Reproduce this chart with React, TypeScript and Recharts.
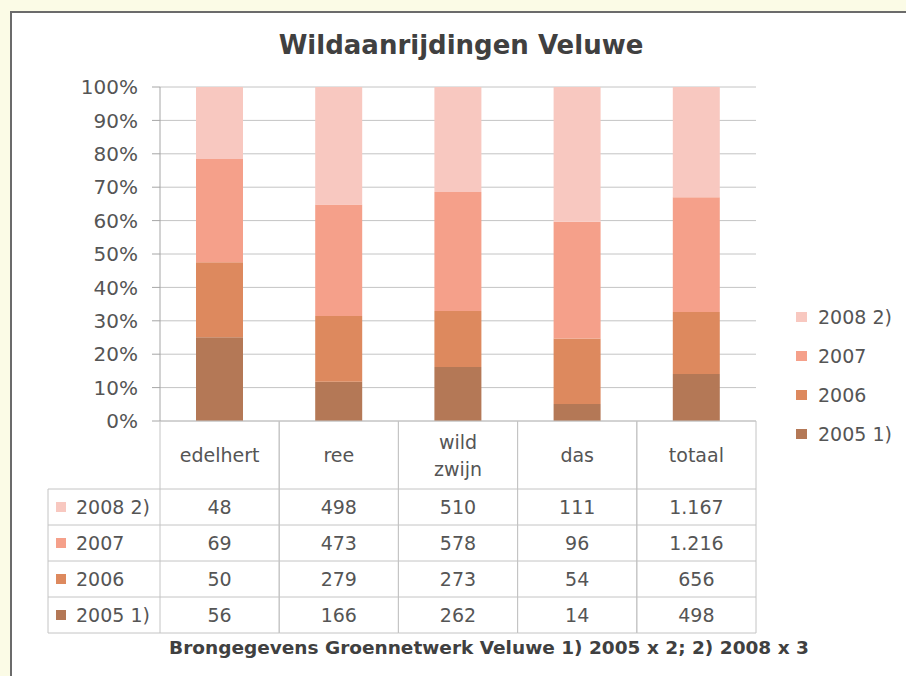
import React from 'react';
import { BarChart, Bar, XAxis, YAxis, CartesianGrid, Legend } from 'recharts';

const categories = ['edelhert', 'ree', 'wild zwijn', 'das', 'totaal'];
const seriesNames = ['2005 1)', '2006', '2007', '2008 2)'];
const values2005 = [56, 166, 262, 14, 498];
const values2006 = [50, 279, 273, 54, 656];
const values2007 = [69, 473, 578, 96, 1216];
const values2008 = [48, 498, 510, 111, 1167];
const yTicks = [0, 0.1, 0.2, 0.3, 0.4, 0.5, 0.6, 0.7, 0.8, 0.9, 1];
const title = 'Wildaanrijdingen Veluwe';
const footnote = 'Brongegevens Groennetwerk Veluwe 1) 2005 x 2; 2) 2008 x 3';

const seriesKeys = ['s2005', 's2006', 's2007', 's2008'];
const seriesValues = [values2005, values2006, values2007, values2008];
const colors = ['#b47856', '#dd895e', '#f5a08a', '#f8c8c0'];

const data = categories.map((name, i) => {
  const row: Record<string, any> = { name };
  seriesKeys.forEach((k, s) => {
    row[k] = seriesValues[s][i];
  });
  return row;
});

const W = 906;
const H = 676;
const PLOT_LEFT = 160;
const PLOT_RIGHT = 756;
const PLOT_TOP = 87;
const PLOT_BOTTOM = 421;
const TABLE_BOTTOM = 633;
const HEADER_H = 68;
const ROW_H = 36;
const LABEL_LEFT = 48;
const GRID = '#c4c4c4';
const TEXT = '#555555';
const FONT = '"DejaVu Sans", sans-serif';
const FS = 19;

const fmt = (n: number) => {
  const s = String(n);
  return s.replace(/\B(?=(\d{3})+(?!\d))/g, '.');
};

const TableTick = (props: any) => {
  const { x, y, payload, index } = props;
  const hw = (PLOT_RIGHT - PLOT_LEFT) / categories.length / 2;
  const ci = categories.indexOf(payload.value);
  const lines = String(payload.value).split(' ');
  const headerMid = y + HEADER_H / 2;
  const rowTop = y + HEADER_H;
  const rowOrder = [3, 2, 1, 0];
  return (
    <g>
      <line x1={x - hw} x2={x - hw} y1={y} y2={TABLE_BOTTOM} stroke={GRID} />
      <line x1={x + hw} x2={x + hw} y1={y} y2={TABLE_BOTTOM} stroke={GRID} />
      {lines.map((ln, li) => (
        <text
          key={li}
          x={x}
          y={headerMid + (li - (lines.length - 1) / 2) * 27}
          textAnchor="middle"
          dominantBaseline="central"
          fontSize={FS}
          fill={TEXT}
        >
          {ln}
        </text>
      ))}
      {rowOrder.map((s, r) => (
        <g key={s}>
          <line x1={x - hw} x2={x + hw} y1={rowTop + r * ROW_H} y2={rowTop + r * ROW_H} stroke={GRID} />
          <text
            x={x}
            y={rowTop + r * ROW_H + ROW_H / 2}
            textAnchor="middle"
            dominantBaseline="central"
            fontSize={FS}
            fill={TEXT}
          >
            {fmt(seriesValues[s][ci])}
          </text>
        </g>
      ))}
      <line x1={x - hw} x2={x + hw} y1={TABLE_BOTTOM} y2={TABLE_BOTTOM} stroke={GRID} />
      {index === 0 && (
        <g>
          <line x1={LABEL_LEFT} x2={LABEL_LEFT} y1={rowTop} y2={TABLE_BOTTOM} stroke={GRID} />
          <line x1={LABEL_LEFT} x2={x - hw} y1={TABLE_BOTTOM} y2={TABLE_BOTTOM} stroke={GRID} />
          {rowOrder.map((s, r) => (
            <g key={s}>
              <line x1={LABEL_LEFT} x2={x - hw} y1={rowTop + r * ROW_H} y2={rowTop + r * ROW_H} stroke={GRID} />
              <rect x={LABEL_LEFT + 8} y={rowTop + r * ROW_H + ROW_H / 2 - 5} width={10} height={10} fill={colors[s]} />
              <text
                x={LABEL_LEFT + 28}
                y={rowTop + r * ROW_H + ROW_H / 2}
                dominantBaseline="central"
                fontSize={FS}
                fill={TEXT}
              >
                {seriesNames[s]}
              </text>
            </g>
          ))}
        </g>
      )}
    </g>
  );
};

const LegendContent = (props: any) => {
  const payload = (props.payload || []).slice().reverse();
  return (
    <div>
      {payload.map((e: any) => (
        <div key={e.value} style={{ height: 39, display: 'flex', alignItems: 'center', fontSize: FS, color: TEXT, whiteSpace: 'nowrap' }}>
          <span style={{ display: 'inline-block', width: 11, height: 10, background: e.color, marginRight: 11 }} />
          <span>{e.value}</span>
        </div>
      ))}
    </div>
  );
};

export default function App() {
  return (
    <div style={{ position: 'absolute', left: 0, top: 0, width: W, height: H, background: '#fbfbe6', fontFamily: FONT, overflow: 'hidden' }}>
      <div
        style={{
          position: 'absolute',
          left: 10,
          top: 11,
          width: W - 10,
          height: H - 11,
          background: '#ffffff',
          borderLeft: '2px solid #6b6b6b',
          borderTop: '2px solid #6b6b6b',
          boxSizing: 'border-box',
        }}
      />
      <div style={{ position: 'absolute', left: 0, top: 0 }}>
        <BarChart
          width={W}
          height={H}
          data={data}
          stackOffset="expand"
          barSize={47}
          margin={{ top: PLOT_TOP, right: W - PLOT_RIGHT, left: PLOT_LEFT - 60, bottom: H - TABLE_BOTTOM }}
        >
          <text x={461} y={45} textAnchor="middle" dominantBaseline="central" fontSize={26} fontWeight="bold" fill="#404040">
            {title}
          </text>
          <text x={489} y={647} textAnchor="middle" dominantBaseline="central" fontSize={18.5} fontWeight="bold" fill="#404040">
            {footnote}
          </text>
          <CartesianGrid horizontal vertical={false} stroke={GRID} />
          <XAxis
            dataKey="name"
            height={TABLE_BOTTOM - PLOT_BOTTOM}
            interval={0}
            tickSize={0}
            tickMargin={0}
            tickLine={false}
            axisLine={{ stroke: GRID }}
            tick={<TableTick />}
          />
          <YAxis
            width={60}
            domain={[0, 1]}
            ticks={yTicks}
            interval={0}
            tickFormatter={(v: number) => `${Math.round(v * 100)}%`}
            tickSize={8}
            tickMargin={14}
            axisLine={{ stroke: '#a6a6a6' }}
            tickLine={{ stroke: '#a6a6a6' }}
            tick={{ fontSize: 20, fill: TEXT }}
          />
          {seriesKeys.map((k, s) => (
            <Bar key={k} dataKey={k} name={seriesNames[s]} stackId="a" fill={colors[s]} isAnimationActive={false} />
          ))}
          <Legend
            layout="horizontal"
            verticalAlign="middle"
            align="center"
            content={<LegendContent />}
            wrapperStyle={{ position: 'absolute', left: 796, top: 297, width: 110, height: 160 }}
          />
        </BarChart>
      </div>
    </div>
  );
}
